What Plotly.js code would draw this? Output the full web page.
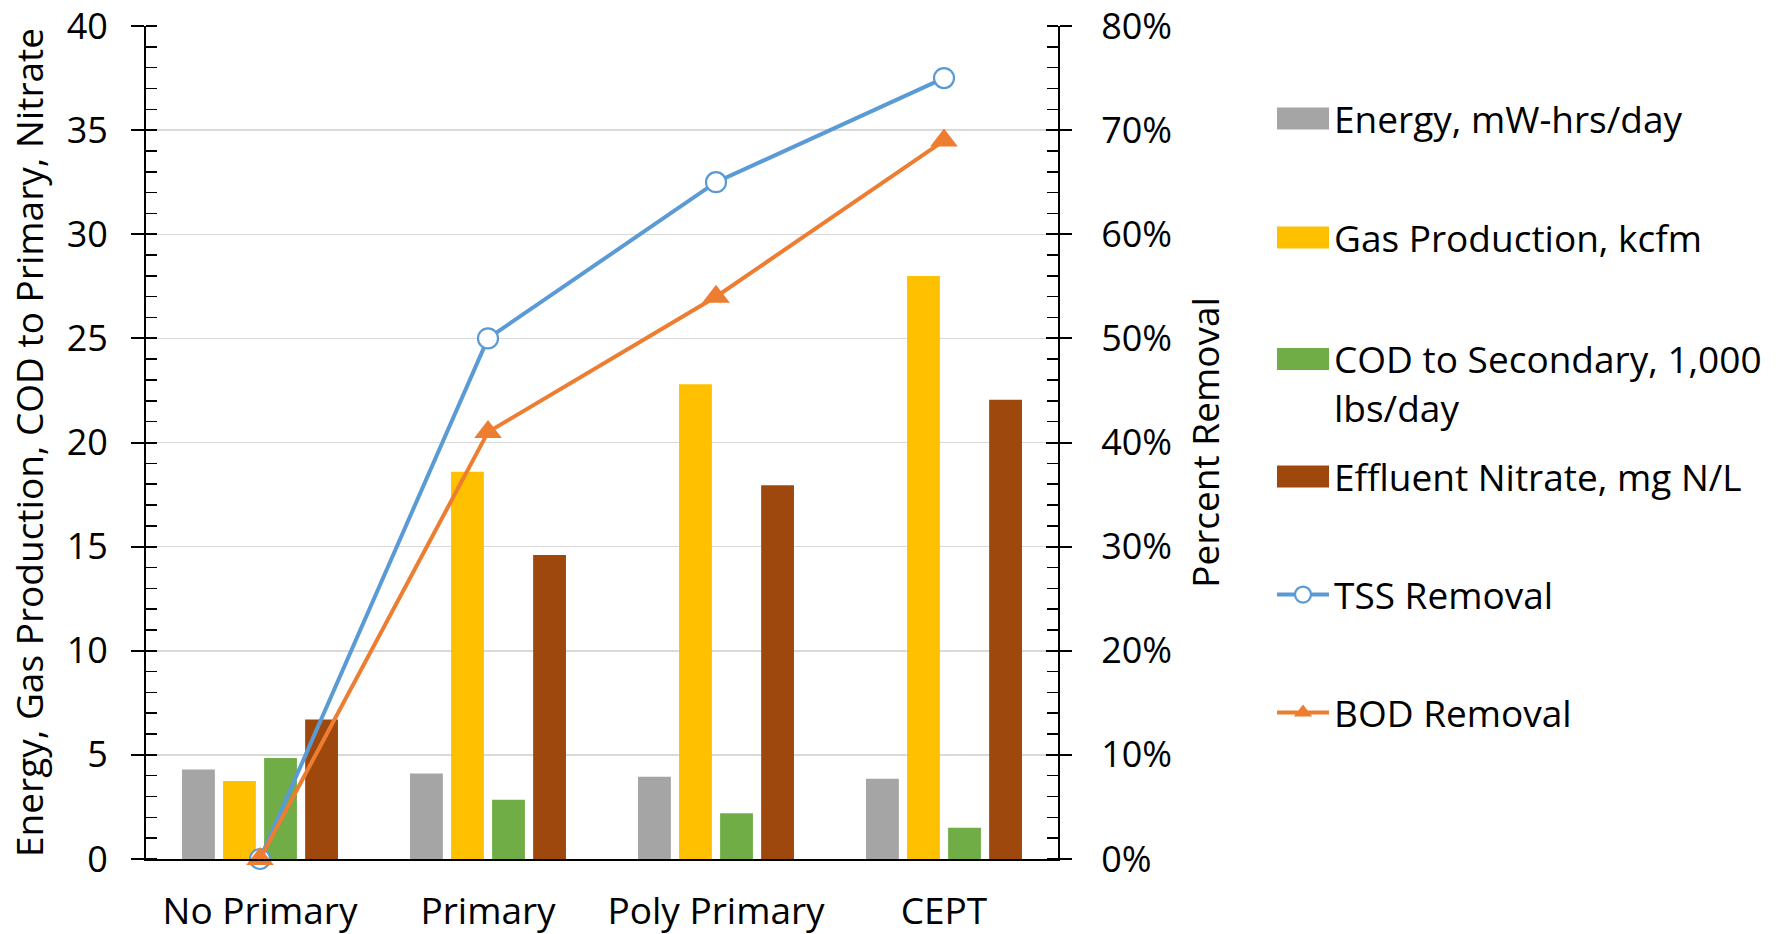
<!DOCTYPE html>
<html>
<head>
<meta charset="utf-8">
<script src="https://cdn.plot.ly/plotly-3.0.1.min.js"></script>
<style>
  html, body { margin: 0; padding: 0; background: #ffffff; }
  #chart { width: 1791px; height: 934px; }
</style>
</head>
<body>
<div id="chart"></div>
<script>
// Treatment alternatives along the x axis
const categories = ['No Primary', 'Primary', 'Poly Primary', 'CEPT'];

// Bar series (left axis)
const energy = [4.3, 4.1, 3.95, 3.85];
const gasProduction = [3.75, 18.6, 22.8, 28.0];
const codToSecondary = [4.85, 2.85, 2.2, 1.5];
const effluentNitrate = [6.7, 14.6, 17.95, 22.05];

// Removal efficiencies (right axis, fraction)
const tssRemoval = [0, 0.50, 0.65, 0.75];
const bodRemoval = [0, 0.41, 0.54, 0.69];

// Legend labels
const seriesNames = [
  'Energy, mW-hrs/day',
  'Gas Production, kcfm',
  'COD to Secondary, 1,000<br>lbs/day',
  'Effluent Nitrate, mg N/L',
  'TSS Removal',
  'BOD Removal'
];

const leftTitle = 'Energy, Gas Production, COD to Primary, Nitrate';
const rightTitle = 'Percent Removal';

const FONT = '"Open Sans", Lato, sans-serif';
const FS = 37;       // legend, category labels, axis titles
const FS_TICK = 36;  // numeric tick labels
const W = 1791, H = 934;

const barColors = ['#a5a5a5', '#ffc000', '#70ad47', '#9e480e'];
const barSeries = [energy, gasProduction, codToSecondary, effluentNitrate];
const legendIds = ['legend', 'legend2', 'legend3', 'legend4', 'legend5', 'legend6'];

const traces = barSeries.map((vals, i) => ({
  type: 'bar',
  name: seriesNames[i],
  x: categories,
  y: vals,
  marker: { color: barColors[i], line: { width: 0 } },
  legend: legendIds[i],
  hoverinfo: 'skip'
}));

traces.push({
  type: 'scatter',
  mode: 'lines+markers',
  name: seriesNames[4],
  x: categories,
  y: tssRemoval,
  yaxis: 'y2',
  line: { color: '#5b9bd5', width: 4 },
  marker: { symbol: 'circle', size: 20, color: '#ffffff', line: { color: '#5b9bd5', width: 2.2 } },
  cliponaxis: false,
  legend: legendIds[4],
  hoverinfo: 'skip'
});

traces.push({
  type: 'scatter',
  mode: 'lines+markers',
  name: seriesNames[5],
  x: categories,
  y: bodRemoval,
  yaxis: 'y2',
  line: { color: '#ed7d31', width: 4 },
  marker: { symbol: 'triangle-up', size: 24, color: '#ed7d31', line: { width: 0 } },
  cliponaxis: false,
  legend: legendIds[5],
  hoverinfo: 'skip'
});

// Empty helper traces so the inner half of the major ticks gets its own axes
traces.push({ type: 'scatter', x: [], y: [], yaxis: 'y3', showlegend: false, hoverinfo: 'skip' });
traces.push({ type: 'scatter', x: [], y: [], yaxis: 'y4', showlegend: false, hoverinfo: 'skip' });

const legendCenters = [119, 238, 383.5, 477, 595, 713];
const legendBase = {
  xref: 'container', yref: 'container',
  xanchor: 'left', yanchor: 'middle',
  bgcolor: 'rgba(0,0,0,0)', borderwidth: 0,
  itemwidth: 52,
  font: { family: FONT, size: FS, color: '#000' }
};

const layout = {
  width: W, height: H,
  paper_bgcolor: '#ffffff', plot_bgcolor: '#ffffff',
  font: { family: FONT, size: FS, color: '#000' },
  margin: { l: 146, r: W - 1058, t: 26, b: H - 859, pad: 0 },
  barmode: 'group',
  bargap: 0.28,
  bargroupgap: 0.2,
  showlegend: true,
  xaxis: {
    type: 'category',
    categoryorder: 'array',
    categoryarray: categories,
    range: [-0.5, 3.5],
    showline: true, linecolor: '#000', linewidth: 2,
    ticks: '', showgrid: false, zeroline: false,
    ticklabelstandoff: 19,
    tickfont: { family: FONT, size: FS, color: '#000' },
    fixedrange: true
  },
  yaxis: {
    range: [0, 40], tick0: 0, dtick: 5,
    showline: true, linecolor: '#000', linewidth: 2,
    ticks: 'outside', ticklen: 13, tickwidth: 2, tickcolor: '#000',
    minor: { dtick: 1, ticks: 'inside', ticklen: 11, tickwidth: 1.5, tickcolor: '#000', showgrid: false },
    showgrid: true, gridcolor: '#d9d9d9', gridwidth: 1.5,
    zeroline: false,
    ticklabelstandoff: 16,
    tickfont: { family: FONT, size: FS_TICK, color: '#000' },
    title: { text: leftTitle, font: { family: FONT, size: FS, color: '#000' }, standoff: 12 },
    fixedrange: true
  },
  yaxis2: {
    overlaying: 'y', side: 'right',
    range: [0, 0.8], tick0: 0, dtick: 0.1, tickformat: '.0%',
    showline: true, linecolor: '#000', linewidth: 2,
    ticks: 'outside', ticklen: 12, tickwidth: 2, tickcolor: '#000',
    minor: { dtick: 0.02, ticks: 'inside', ticklen: 11, tickwidth: 1.5, tickcolor: '#000', showgrid: false },
    showgrid: false, zeroline: false,
    ticklabelstandoff: 22,
    tickfont: { family: FONT, size: FS_TICK, color: '#000' },
    title: { text: rightTitle, font: { family: FONT, size: FS, color: '#000' }, standoff: 22 },
    fixedrange: true
  },
  yaxis3: {
    overlaying: 'y', side: 'left',
    range: [0, 40], tick0: 0, dtick: 5,
    ticks: 'inside', ticklen: 11, tickwidth: 2, tickcolor: '#000',
    showticklabels: false, showgrid: false, showline: false, zeroline: false,
    fixedrange: true
  },
  yaxis4: {
    overlaying: 'y', side: 'right',
    range: [0, 0.8], tick0: 0, dtick: 0.1,
    ticks: 'inside', ticklen: 12, tickwidth: 2, tickcolor: '#000',
    showticklabels: false, showgrid: false, showline: false, zeroline: false,
    fixedrange: true
  }
};

legendIds.forEach((id, i) => {
  layout[id] = Object.assign({}, legendBase, {
    x: 1272 / W,
    y: 1 - legendCenters[i] / H,
    valign: i === 2 ? 'top' : 'middle'
  });
});

// Wider rectangular swatches for the bar series in the legend
function widenBarSwatches(gd) {
  gd.querySelectorAll('.legendpoints path').forEach(p => {
    const d = (p.getAttribute('d') || '').replace(/\s/g, '');
    if (d === 'M6,6H-6V-6H6Z' || p.classList.contains('legendbar')) {
      p.setAttribute('d', 'M26,11H-26V-11H26Z');
    }
  });
}

const gd = document.getElementById('chart');
Plotly.newPlot(gd, traces, layout, { staticPlot: true, displayModeBar: false }).then(() => {
  widenBarSwatches(gd);
  gd.on('plotly_afterplot', () => widenBarSwatches(gd));
  setTimeout(() => widenBarSwatches(gd), 200);
  setTimeout(() => widenBarSwatches(gd), 800);
});
</script>
</body>
</html>
